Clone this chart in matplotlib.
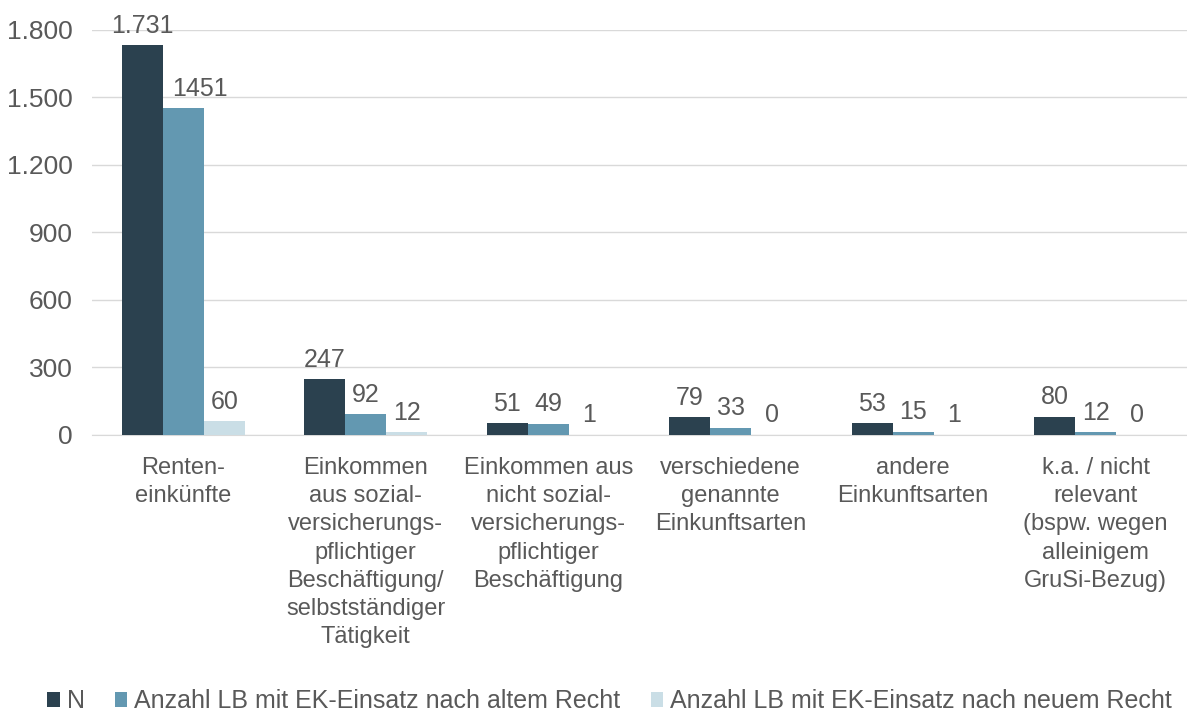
import numpy as np
import matplotlib.pyplot as plt

plt.rcParams['font.family'] = ['Liberation Sans', 'DejaVu Sans']

categories = [
    "Renten-\neinkünfte",
    "Einkommen\naus sozial-\nversicherungs-\npflichtiger\nBeschäftigung/\nselbstständiger\nTätigkeit",
    "Einkommen aus\nnicht sozial-\nversicherungs-\npflichtiger\nBeschäftigung",
    "verschiedene\ngenannte\nEinkunftsarten",
    "andere\nEinkunftsarten",
    "k.a. / nicht\nrelevant\n(bspw. wegen\nalleinigem\nGruSi-Bezug)",
]
n_values = [1731, 247, 51, 79, 53, 80]
alt_values = [1451, 92, 49, 33, 15, 12]
neu_values = [60, 12, 1, 0, 1, 0]
n_labels = ["1.731", "247", "51", "79", "53", "80"]
alt_labels = ["1451", "92", "49", "33", "15", "12"]
neu_labels = ["60", "12", "1", "0", "1", "0"]
series_names = ["N", "Anzahl LB mit EK-Einsatz nach altem Recht",
                "Anzahl LB mit EK-Einsatz nach neuem Recht"]
colors = ["#2B414F", "#6398B1", "#CADEE6"]
yticks = [0, 300, 600, 900, 1200, 1500, 1800]
ytick_labels = ["0", "300", "600", "900", "1.200", "1.500", "1.800"]

fig = plt.figure(figsize=(11.87, 7.13), dpi=100)
ax = fig.add_axes([0.0775, 0.39, 0.9225, 0.568])

x = np.arange(len(categories))
w = 0.225
text_col = "#595959"
for i, (vals, labs) in enumerate([(n_values, n_labels), (alt_values, alt_labels),
                                   (neu_values, neu_labels)]):
    bars = ax.bar(x + (i - 1) * w, vals, w, color=colors[i], label=series_names[i],
                  zorder=3)
    for j, (b, lab) in enumerate(zip(bars, labs)):
        # the label of the tall second bar is pushed right, away from the first bar
        dx = 12 if (i == 1 and j == 0) else 0
        ax.annotate(lab, (b.get_x() + b.get_width() / 2, b.get_height()),
                    xytext=(dx, 9), textcoords="offset points",
                    ha="center", va="baseline", fontsize=18, color=text_col,
                    annotation_clip=False)

ax.set_xlim(-0.5, len(categories) - 0.5)
ax.set_ylim(0, 1800)
ax.set_yticks(yticks)
ax.set_yticklabels(ytick_labels, fontsize=19, color=text_col)
ax.set_xticks(x)
ax.set_xticklabels(categories, fontsize=17, color=text_col, linespacing=1.36,
                   va="top")
ax.tick_params(axis="both", length=0)
ax.tick_params(axis="x", pad=16)
ax.tick_params(axis="y", pad=14)
ax.grid(axis="y", color="#D9D9D9", linewidth=1, zorder=0)
for s in ["top", "right", "left"]:
    ax.spines[s].set_visible(False)
ax.spines["bottom"].set_color("#D9D9D9")

fig.legend(loc="lower left", bbox_to_anchor=(0.021, -0.032), ncol=3, frameon=False,
           fontsize=18, handlelength=0.5, handleheight=0.5, handletextpad=0.28,
           columnspacing=1.2, labelcolor=text_col)

fig.savefig("out.png", dpi=100)
